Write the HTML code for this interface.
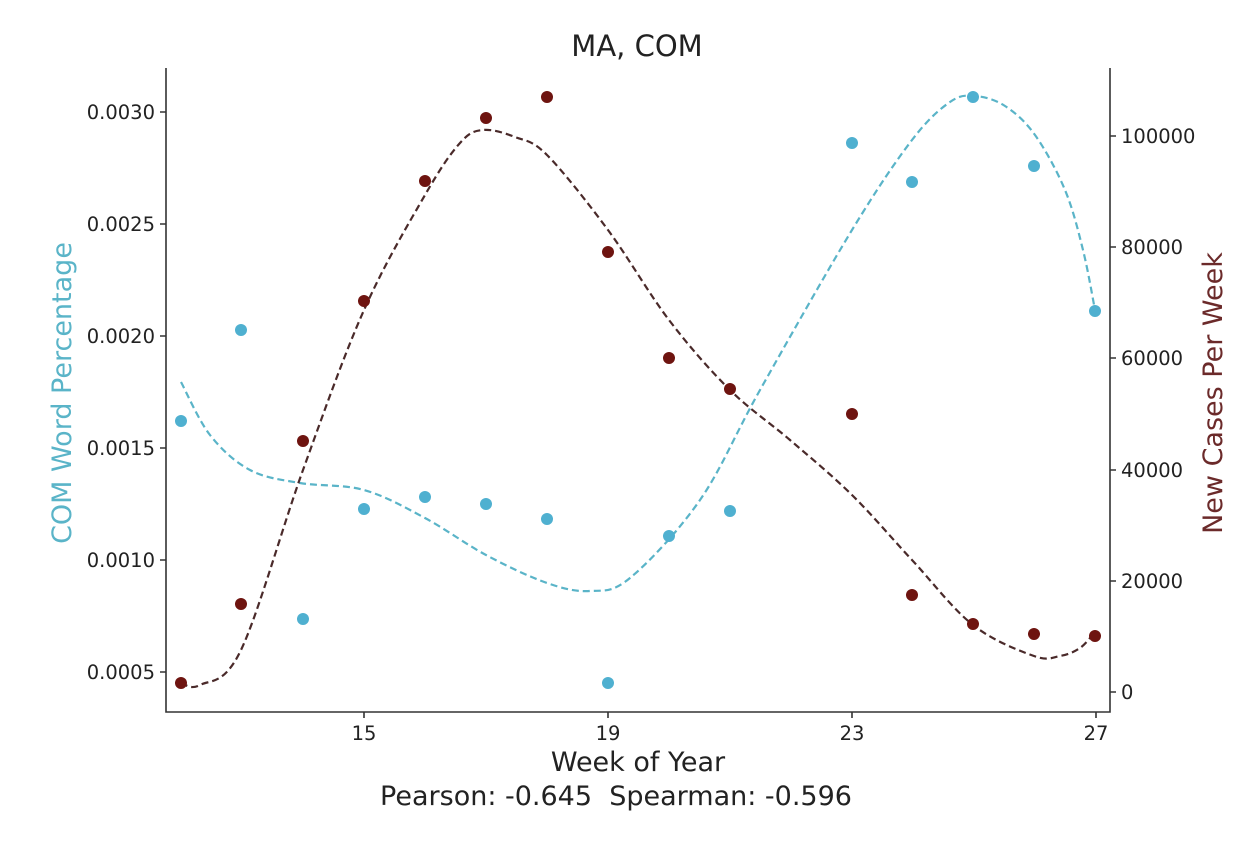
<!DOCTYPE html>
<html><head><style>body{margin:0;background:#fff}svg{display:block}text{font-family:"DejaVu Sans","Liberation Sans",sans-serif;fill:#222}</style></head>
<body>
<svg width="1256" height="844" viewBox="0 0 1256 844">
<text x="637" y="56" font-size="29" text-anchor="middle">MA, COM</text>
<g stroke="#333" stroke-width="1.6" fill="none">
<path d="M166 68 V712 H1110 V68"/>
<path d="M160 112h6M160 224h6M160 336h6M160 448h6M160 560h6M160 672h6"/>
<path d="M1110 136h6M1110 247h6M1110 358h6M1110 470h6M1110 581h6M1110 692h6"/>
<path d="M364 712v6M608 712v6M852 712v6M1096 712v6"/>
</g>
<g font-size="19.5" text-anchor="end">
<text x="155" y="119">0.0030</text><text x="155" y="231">0.0025</text><text x="155" y="343">0.0020</text><text x="155" y="455">0.0015</text><text x="155" y="567">0.0010</text><text x="155" y="679">0.0005</text>
</g>
<g font-size="19.5">
<text x="1121" y="143">100000</text><text x="1121" y="254">80000</text><text x="1121" y="365">60000</text><text x="1121" y="477">40000</text><text x="1121" y="588">20000</text><text x="1121" y="699">0</text>
</g>
<g font-size="19.5" text-anchor="middle">
<text x="364" y="740">15</text><text x="608" y="740">19</text><text x="852" y="740">23</text><text x="1096" y="740">27</text>
</g>
<text x="638" y="771" font-size="27" text-anchor="middle">Week of Year</text>
<text x="616" y="805" font-size="27" text-anchor="middle" xml:space="preserve">Pearson: -0.645  Spearman: -0.596</text>
<text transform="translate(71,393) rotate(-90)" font-size="27" text-anchor="middle" style="fill:#5ab4c8">COM Word Percentage</text>
<text transform="translate(1222,393) rotate(-90)" font-size="27" text-anchor="middle" style="fill:#6b2a2a">New Cases Per Week</text>
<path id="bl" fill="none" stroke="#5ab4c8" stroke-width="2.2" stroke-dasharray="7,4"/>
<path id="rd" fill="none" stroke="#4a2a2a" stroke-width="2.2" stroke-dasharray="7,4"/>
<g fill="#4fb0d0">
<circle cx="181" cy="421" r="6"/><circle cx="241" cy="330" r="6"/><circle cx="303" cy="619" r="6"/><circle cx="364" cy="509" r="6"/><circle cx="425" cy="497" r="6"/><circle cx="486" cy="504" r="6"/><circle cx="547" cy="519" r="6"/><circle cx="608" cy="683" r="6"/><circle cx="669" cy="536" r="6"/><circle cx="730" cy="511" r="6"/><circle cx="852" cy="143" r="6"/><circle cx="912" cy="182" r="6"/><circle cx="973" cy="97" r="6"/><circle cx="1034" cy="166" r="6"/><circle cx="1095" cy="311" r="6"/>
</g>
<g fill="#6e1410">
<circle cx="181" cy="683" r="6"/><circle cx="241" cy="604" r="6"/><circle cx="303" cy="441" r="6"/><circle cx="364" cy="301" r="6"/><circle cx="425" cy="181" r="6"/><circle cx="486" cy="118" r="6"/><circle cx="547" cy="97" r="6"/><circle cx="608" cy="252" r="6"/><circle cx="669" cy="358" r="6"/><circle cx="730" cy="389" r="6"/><circle cx="852" cy="414" r="6"/><circle cx="912" cy="595" r="6"/><circle cx="973" cy="624" r="6"/><circle cx="1034" cy="634" r="6"/><circle cx="1095" cy="636" r="6"/>
</g>
</svg>
<script>
function cr(p){var d="M"+p[0][0]+" "+p[0][1];for(var i=0;i<p.length-1;i++){var a=p[i-1]||p[i],b=p[i],c=p[i+1],e=p[i+2]||c;d+=" C"+(b[0]+(c[0]-a[0])/6)+" "+(b[1]+(c[1]-a[1])/6)+","+(c[0]-(e[0]-b[0])/6)+" "+(c[1]-(e[1]-b[1])/6)+","+c[0]+" "+c[1];}return d;}
document.getElementById("bl").setAttribute("d",cr([[181,382],[210,435],[250,470],[300,483],[364,490],[425,518],[486,555],[547,583],[590,591],[630,578],[700,500],[760,390],[852,230],[912,140],[950,102],[975,96],[1005,106],[1035,135],[1065,190],[1083,250],[1095,310]]));
document.getElementById("rd").setAttribute("d",cr([[181,683],[200,685],[241,650],[303,470],[364,310],[425,195],[460,143],[483,130],[515,137],[547,155],[608,230],[669,320],[730,390],[790,440],[852,495],[912,560],[973,625],[1034,656],[1060,656],[1080,648],[1095,632]]));
</script>
</body></html>
